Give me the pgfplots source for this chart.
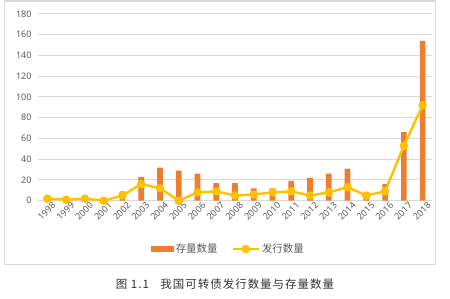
\documentclass[border=0pt]{standalone}
\usepackage{pgfplots}
\pgfplotsset{compat=1.18}
\usepackage{fontspec}
\setmainfont{Noto Sans CJK SC}
\newfontfamily\tickfont{Noto Sans}
\definecolor{barorange}{HTML}{ED7D31}
\definecolor{lineyellow}{HTML}{FFC000}
\definecolor{gridgray}{HTML}{D9D9D9}
\definecolor{ticktext}{HTML}{595959}
\begin{document}
\begin{tikzpicture}[x=1bp,y=1bp]
\useasboundingbox (0,0) rectangle (450,298);
\draw[gridgray, line width=1.5bp] (4.5,33.5) rectangle (435.5,297);
\begin{axis}[
  at={(38bp,97.3bp)}, anchor=south west,
  width=394bp, height=186.7bp, scale only axis,
  xmin=-0.5, xmax=20.5, ymin=0, ymax=180,
  ytick={0,20,...,180},
  xtick={0,...,20},
  xticklabels={1998,1999,2000,2001,2002,2003,2004,2005,2006,2007,2008,2009,2010,2011,2012,2013,2014,2015,2016,2017,2018},
  /pgf/number format/assume math mode=true,
  tick label style={font=\tickfont\fontsize{9}{10}\selectfont, text=ticktext},
  xticklabel style={rotate=45, anchor=north east, inner sep=0.5bp, xshift=3bp, yshift=-3bp},
  yticklabel style={xshift=-3bp},
  major tick length=0,
  ymajorgrids, grid style={gridgray, line width=1bp},
  axis x line*=bottom, axis y line*=left,
  x axis line style={draw=gridgray, line width=1bp, -},
  y axis line style={draw=none},
  clip=false,
  legend columns=2,
  legend style={at={(0.483,-0.259)}, anchor=center, draw=none, fill=none,
    font=\fontsize{10.5}{11}\selectfont, text=ticktext,
    /tikz/every even column/.append style={column sep=12bp}},
]
\addplot[ybar, bar width=5.7bp, fill=barorange, draw=none,
  legend image code/.code={\fill[barorange] (0bp,-2.6bp) rectangle (23bp,2.6bp);}]
  coordinates {(0,2) (1,2) (2,5) (3,3) (4,9) (5,23) (6,32) (7,29) (8,26) (9,17) (10,17) (11,12) (12,12) (13,19) (14,22) (15,26) (16,31) (17,3) (18,16) (19,66) (20,154)};
\addlegendentry{存量数量}
\addplot[lineyellow, line width=2.4bp, mark=*, mark size=3bp, mark options={fill=lineyellow, draw=lineyellow},
  legend image code/.code={\draw[lineyellow, line width=2.4bp] (0bp,0bp) -- (26bp,0bp); \fill[lineyellow] (13bp,0bp) circle (3bp);}]
  coordinates {(0,2) (1,1) (2,2) (3,0) (4,5) (5,16) (6,12) (7,0) (8,8) (9,9) (10,5) (11,6) (12,8) (13,9) (14,5) (15,8) (16,13) (17,5) (18,9) (19,53) (20,92)};
\addlegendentry{发行数量}
\end{axis}
\node[font=\fontsize{11.5}{12}\selectfont, text=black!80] at (225,14) {\addfontfeature{LetterSpace=9}图 1.1\hspace{1em}我国可转债发行数量与存量数量};
\end{tikzpicture}
\end{document}
